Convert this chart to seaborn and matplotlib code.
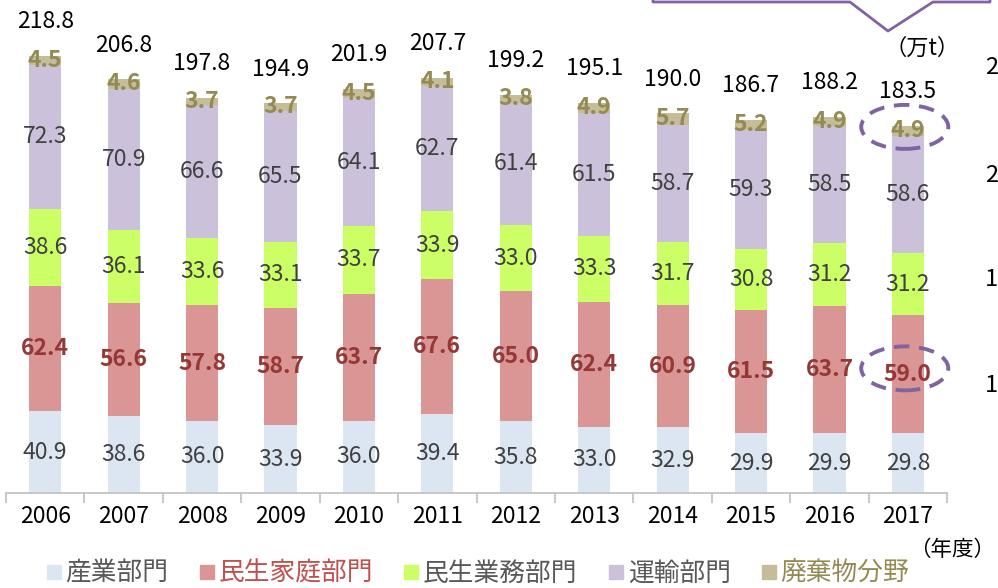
import numpy as np
import pandas as pd
import matplotlib.pyplot as plt
import seaborn as sns
from matplotlib.lines import Line2D
from matplotlib.patches import Ellipse


# =========================================================
# DATA
# =========================================================

years = ["2006", "2007", "2008", "2009", "2010", "2011",
         "2012", "2013", "2014", "2015", "2016", "2017"]

industry = [40.9, 38.6, 36.0, 33.9, 36.0, 39.4, 35.8, 33.0, 32.9, 29.9, 29.9, 29.8]
household = [62.4, 56.6, 57.8, 58.7, 63.7, 67.6, 65.0, 62.4, 60.9, 61.5, 63.7, 59.0]
business = [38.6, 36.1, 33.6, 33.1, 33.7, 33.9, 33.0, 33.3, 31.7, 30.8, 31.2, 31.2]
transport = [72.3, 70.9, 66.6, 65.5, 64.1, 62.7, 61.4, 61.5, 58.7, 59.3, 58.5, 58.6]
waste = [4.5, 4.6, 3.7, 3.7, 4.5, 4.1, 3.8, 4.9, 5.7, 5.2, 4.9, 4.9]
totals = [218.8, 206.8, 197.8, 194.9, 201.9, 207.7, 199.2, 195.1, 190.0, 186.7, 188.2, 183.5]

series_names = ["産業部門", "民生家庭部門", "民生業務部門", "運輸部門", "廃棄物分野"]
series_values = [industry, household, business, transport, waste]

bar_colors = ["#DCE6F2", "#D99694", "#CCFF66", "#CCC1DA", "#C4BD97"]
value_colors = ["#404040", "#953735", "#404040", "#404040", "#948A54"]
value_weights = ["normal", "bold", "normal", "normal", "bold"]
legend_colors = ["#595959", "#C0504D", "#595959", "#595959", "#948A54"]


# =========================================================
# STYLE
# =========================================================

sns.set_theme(style="white")
plt.rcParams["font.family"] = ["Noto Sans CJK JP", "DejaVu Sans"]

fig = plt.figure(figsize=(9.98, 5.88), dpi=100)
ax = fig.add_axes([0.006, 0.1616, 0.943, 0.8384])


# =========================================================
# STACKED BARS (cumulative, drawn top layer first)
# =========================================================

df = pd.DataFrame({"year": years})
for name, vals in zip(series_names, series_values):
    df[name] = vals

cum = df[series_names].cumsum(axis=1)
bottoms = cum.shift(1, axis=1).fillna(0)

for i in reversed(range(len(series_names))):
    sns.barplot(
        x=df["year"],
        y=cum[series_names[i]],
        order=years,
        color=bar_colors[i],
        width=0.41,
        saturation=1,
        linewidth=0,
        ax=ax,
    )

for i, name in enumerate(series_names):
    for j in range(len(years)):
        mid = bottoms.iloc[j, i] + df[name].iloc[j] / 2
        ax.text(
            j, mid, f"{df[name].iloc[j]:.1f}",
            ha="center", va="center",
            fontsize=16.5,
            color=value_colors[i],
            fontweight=value_weights[i],
        )

for j, t in enumerate(totals):
    ax.text(
        j, cum.iloc[j, -1] + 17, f"{t:.1f}",
        ha="center", va="center",
        fontsize=16.5, color="black",
    )


# =========================================================
# HIGHLIGHT ELLIPSES (2017)
# =========================================================

last = len(years) - 1
for i, dy in [(4, 2.0), (1, 3.0)]:
    cy = bottoms.iloc[last, i] + df[series_names[i]].iloc[last] / 2 + dy
    ax.add_patch(
        Ellipse(
            (last - 0.04, cy), 1.11, 22,
            fill=False, edgecolor="#8064A2",
            linewidth=2.8, linestyle=(0, (4, 2.5)),
            clip_on=False,
        )
    )


# =========================================================
# AXES
# =========================================================

ax.set_xlim(-0.5, len(years) - 0.5)
ax.set_ylim(0, 246.5)
ax.set_xlabel("")
ax.set_ylabel("")
ax.set_yticks([])

for side in ["top", "left", "right"]:
    ax.spines[side].set_visible(False)
ax.spines["bottom"].set_color("#BFBFBF")
ax.spines["bottom"].set_linewidth(1.2)

ax.set_xticks(np.arange(-0.5, len(years)), minor=True)
ax.tick_params(axis="x", which="minor", length=7, width=1.2,
               color="#BFBFBF", direction="out", bottom=True)
ax.tick_params(axis="x", which="major", length=0, pad=9,
               labelsize=16.5, labelcolor="black")


# =========================================================
# LEGEND
# =========================================================

handles = [
    Line2D([], [], marker="s", linestyle="", markersize=10,
           markerfacecolor=c, markeredgecolor=c)
    for c in bar_colors
]

leg = fig.legend(
    handles, series_names,
    loc="center", bbox_to_anchor=(0.478, 0.024),
    ncol=5, frameon=False, fontsize=18.5,
    handletextpad=0.1, columnspacing=1.15, handlelength=0.7,
)
for text, c in zip(leg.get_texts(), legend_colors):
    text.set_color(c)


# =========================================================
# EXTRA TEXT AND CALLOUT
# =========================================================

fig.text(922 / 998, 1 - 48 / 588, "（万t）", ha="center", va="center",
         fontsize=16, color="black")
fig.text(995 / 998, 1 - 550 / 588, "（年度）", ha="right", va="center",
         fontsize=15.5, color="black")

for y in [68, 175, 280, 385]:
    fig.text(985 / 998, 1 - y / 588, "2" if y < 200 else "1",
             ha="left", va="center", fontsize=17, color="black")

px = [653, 653, 850, 888, 933, 990, 990]
py = [0, 2, 2, 31, 2, 2, 0]
fig.add_artist(
    Line2D(
        [p / 998 for p in px],
        [1 - p / 588 for p in py],
        transform=fig.transFigure,
        color="#8064A2", linewidth=2,
    )
)

plt.savefig("out.png", dpi=100)
plt.close()
